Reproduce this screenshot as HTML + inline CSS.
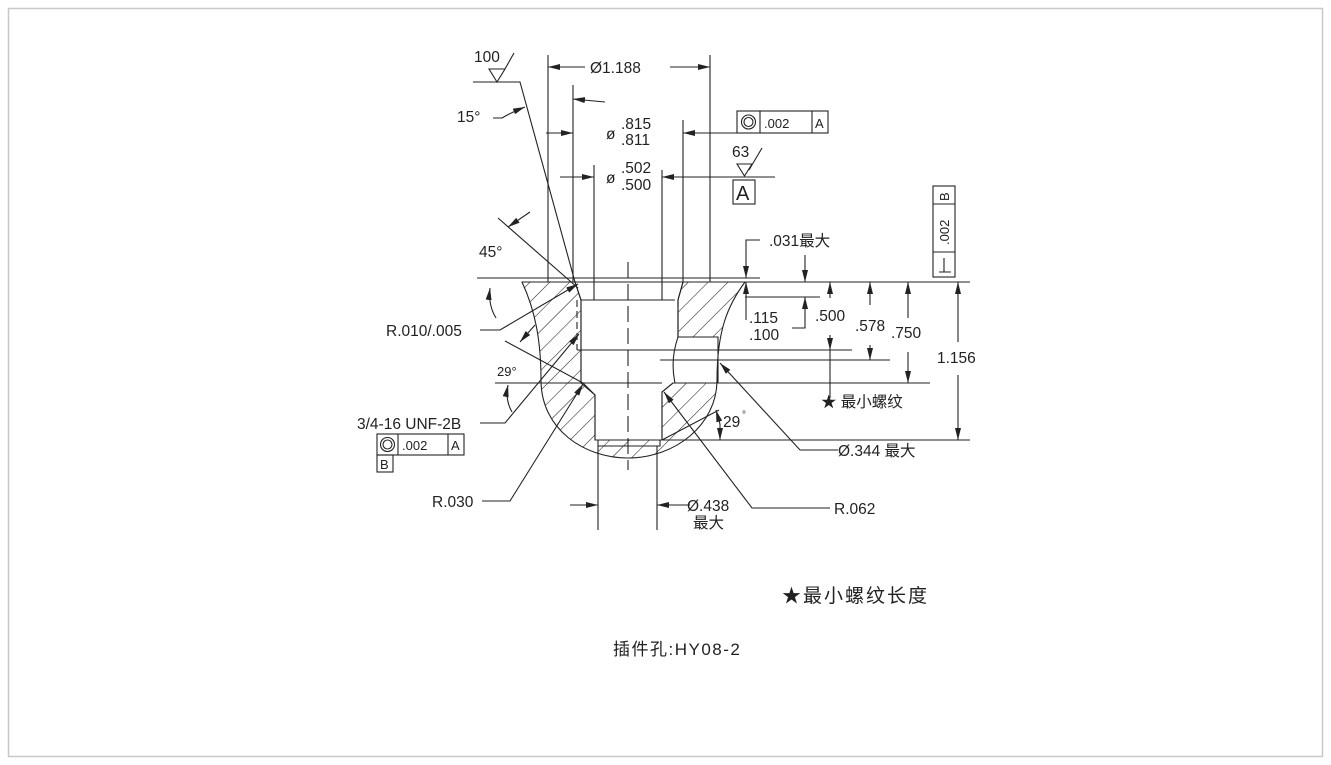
<!DOCTYPE html>
<html><head><meta charset="utf-8"><style>
html,body{margin:0;padding:0;background:#fff}
svg{display:block}
text{font-family:"Liberation Sans","Noto Sans CJK SC",sans-serif;fill:#222}
</style></head><body>
<svg width="1331" height="765" viewBox="0 0 1331 765" xmlns="http://www.w3.org/2000/svg">
<defs>
<marker id="a" viewBox="0 0 12 6" refX="12" refY="3" markerWidth="12" markerHeight="6" markerUnits="userSpaceOnUse" orient="auto-start-reverse"><path d="M0,0 L12,3 L0,6 z" fill="#222"/></marker>
<pattern id="h" patternUnits="userSpaceOnUse" width="14" height="14" patternTransform="rotate(45)"><line x1="0" y1="0" x2="0" y2="14" stroke="#222" stroke-width="1.1"/></pattern>
</defs>
<rect x="8.5" y="8.5" width="1314" height="748" fill="#fff" stroke="#c8c8c8" stroke-width="1.5"/>
<g stroke="#222" stroke-width="1.1" fill="none">
<path fill-rule="evenodd" fill="url(#h)" d="M522,282 C535,310 541,340 541,380 C541,430 585,458 628,458 C675,458 717,425 717,380 C717,330 728,305 745,282 Z
M575,282 L683,282 L678,300 L678,337 L718,337 L718,383 L673,383 L662,392 L662,440 L595,440 L595,395 L583,383 L581,383 L581,300 Z"/>
<path d="M575,282 L581,300 L581,383 L595,395 L595,440 L662,440 L662,392 L673,383"/>
<path d="M683,282 L678,300 L678,337 L718,337"/>
<path d="M678,337 Q670,360 675,383"/>
<path d="M581,300 L675,300"/>
<path d="M583,383 L662,383"/>
<path d="M598,440 L598,446 L660,446 L660,440"/>
<path d="M577,300 L577,350 M678,300 L678,337" stroke-dasharray="7,4"/>
<path d="M628,262 L628,470" stroke-dasharray="16,6"/>
<path d="M477,278 L760,278"/>
<path d="M548,282 L970,282"/>
<path d="M745,297 L820,297"/>
<path d="M577,350 L852,350"/>
<path d="M660,360 L890,360"/>
<path d="M495,383 L583,383 M673,383 L930,383"/>
<path d="M660,440 L970,440"/>
<path d="M548,55 L548,282 M710,55 L710,282"/>
<path d="M573,85 L573,282 M683,120 L683,282"/>
<path d="M594,165 L594,300 M662,170 L662,300"/>
<path d="M598,446 L598,530 M657,446 L657,530"/>
<path d="M585,67 L548,67" marker-end="url(#a)"/><path d="M670,67 L710,67" marker-end="url(#a)"/>
<path d="M605,102 L573,99" marker-end="url(#a)"/>
<path d="M546,133 L573,133" marker-end="url(#a)"/><path d="M737,133 L683,133" marker-end="url(#a)"/>
<rect x="737" y="111" width="91" height="22"/><path d="M760,111 V133 M812,111 V133"/>
<circle cx="748.5" cy="122" r="7"/><circle cx="748.5" cy="122" r="4.5"/>
<path d="M560,177 L594,177" marker-end="url(#a)"/><path d="M775,177 L662,177" marker-end="url(#a)"/>
<path d="M737,164 L752,164 L744.5,176 Z M749,170 L762,148"/>
<rect x="733" y="180" width="22" height="24"/>
<path d="M473,82 L520,82 L575,282"/>
<path d="M489,69 L505,69 L497,82 Z M505,69 L514,53"/>
<path d="M493,118 L502,118 Q510,113 525,107" marker-end="url(#a)"/>
<path d="M498,218 L578,288"/>
<path d="M530,212 L508,227" marker-end="url(#a)"/>
<path d="M496,318 Q488,305 490,288" marker-end="url(#a)"/>
<path d="M480,330 L500,330 L578,284" marker-end="url(#a)"/>
<path d="M505,341 L583,383"/>
<path d="M535,325 L520,342" marker-end="url(#a)"/>
<path d="M512,412 Q505,400 508,385" marker-end="url(#a)"/>
<path d="M480,423 L505,423 L579,334" marker-end="url(#a)"/>
<rect x="377" y="434" width="87" height="21"/><path d="M398,434 V455 M448,434 V455"/>
<rect x="377" y="455" width="16" height="17"/>
<circle cx="387.5" cy="444.5" r="7"/><circle cx="387.5" cy="444.5" r="4.5"/>
<path d="M482,501 L510,501 L583,384" marker-end="url(#a)"/>
<path d="M830,508 L752,508 L664,392" marker-end="url(#a)"/>
<path d="M838,450 L800,450 L720,363" marker-end="url(#a)"/>
<path d="M662,440 L719,410"/>
<path d="M720,424 L716,410" marker-end="url(#a)"/><path d="M720,424 L720,440" marker-end="url(#a)"/>
<path d="M570,505 L598,505" marker-end="url(#a)"/><path d="M690,505 L657,505" marker-end="url(#a)"/>
<path d="M760,240 L746,240 L746,278" marker-end="url(#a)"/>
<path d="M746,320 L746,282" marker-end="url(#a)"/>
<path d="M805,255 L805,282" marker-end="url(#a)"/>
<path d="M792,328 L805,328 L805,297" marker-end="url(#a)"/>
<path d="M830,298 L830,282" marker-end="url(#a)"/><path d="M830,335 L830,350" marker-end="url(#a)"/><path d="M830,350 L830,398"/>
<path d="M870,305 L870,282" marker-end="url(#a)"/><path d="M870,345 L870,360" marker-end="url(#a)"/>
<path d="M908,318 L908,282" marker-end="url(#a)"/><path d="M908,352 L908,383" marker-end="url(#a)"/>
<path d="M958,342 L958,282" marker-end="url(#a)"/><path d="M958,375 L958,440" marker-end="url(#a)"/>
<rect x="933" y="186" width="22" height="91"/><path d="M933,204 H955 M933,252 H955"/>
<path d="M939,272 H951 M944,258 V272"/>
</g>
<g font-size="15.5">
<text x="474" y="62">100</text>
<text x="590" y="73">Ø1.188</text>
<text x="457" y="122">15°</text>
<text x="606" y="139">ø</text><text x="621" y="129">.815</text><text x="621" y="145">.811</text>
<text x="606" y="183">ø</text><text x="621" y="173">.502</text><text x="621" y="190">.500</text>
<text x="732" y="157">63</text>
<text x="736" y="200" font-size="20">A</text>
<text x="764" y="128" font-size="13">.002</text><text x="815" y="128" font-size="13">A</text>
<text x="479" y="257">45°</text>
<text x="386" y="336">R.010/.005</text>
<text x="497" y="376" font-size="13">29°</text>
<text x="357" y="429">3/4-16 UNF-2B</text>
<text x="402" y="450" font-size="13">.002</text><text x="451" y="450" font-size="13">A</text>
<text x="380" y="469" font-size="13">B</text>
<text x="432" y="507">R.030</text>
<text x="723" y="427">29</text><text x="742" y="418" font-size="10">°</text>
<text x="687" y="511">Ø.438</text><text x="693" y="528">最大</text>
<text x="834" y="514">R.062</text>
<text x="838" y="456">Ø.344 最大</text>
<text x="821" y="407">★ 最小螺纹</text>
<text x="769" y="246">.031最大</text>
<text x="749" y="323">.115</text><text x="749" y="340">.100</text>
<text x="815" y="321">.500</text>
<text x="855" y="331">.578</text>
<text x="891" y="338">.750</text>
<text x="937" y="363">1.156</text>
<text transform="translate(949,245) rotate(-90)" font-size="13">.002</text>
<text transform="translate(949,201) rotate(-90)" font-size="13">B</text>
</g>
<text x="782" y="602" font-size="19" letter-spacing="2">★最小螺纹长度</text>
<text x="613" y="655" font-size="17" letter-spacing="1.5">插件孔:HY08-2</text>
</svg>
</body></html>
